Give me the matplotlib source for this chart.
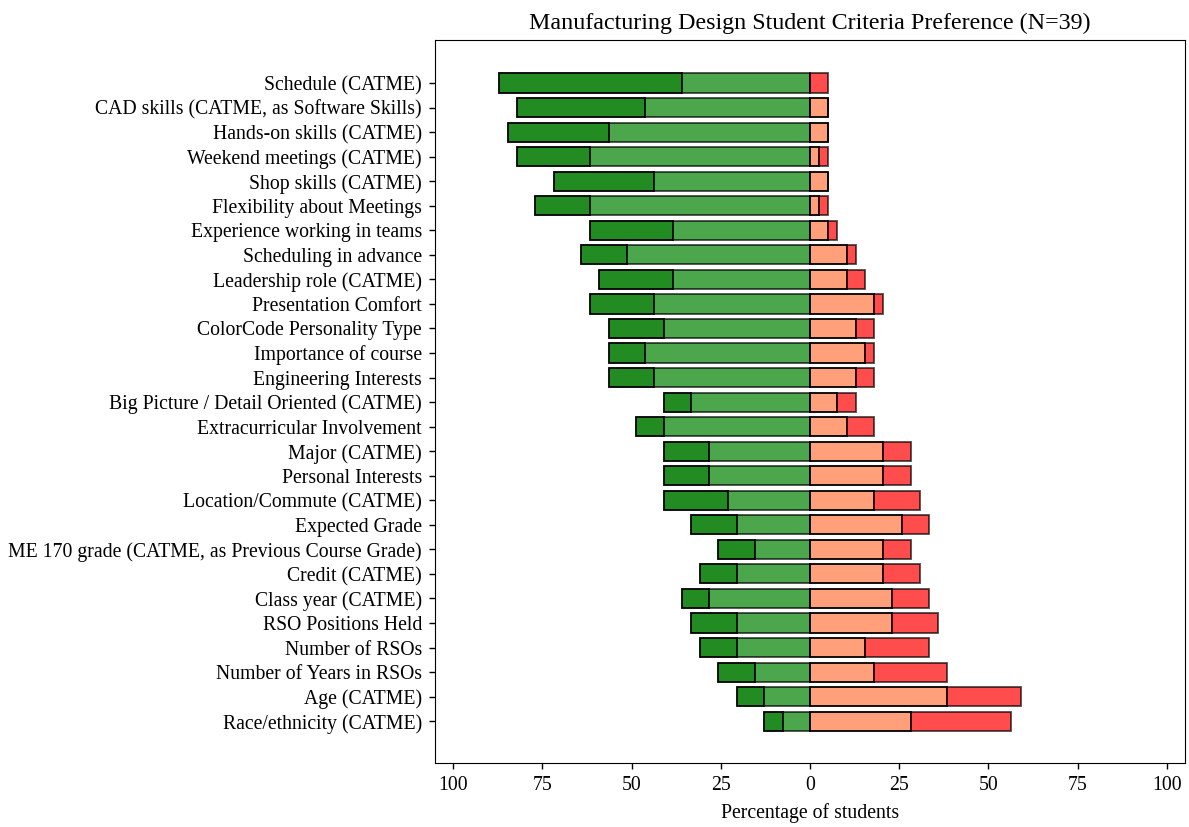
import numpy as np
import matplotlib
matplotlib.use('Agg')
import matplotlib.pyplot as plt

plt.rcParams['font.family'] = ['Liberation Serif', 'DejaVu Serif']

N = 39

criteria = [
    'Schedule (CATME)',
    'CAD skills (CATME, as Software Skills)',
    'Hands-on skills (CATME)',
    'Weekend meetings (CATME)',
    'Shop skills (CATME)',
    'Flexibility about Meetings',
    'Experience working in teams',
    'Scheduling in advance',
    'Leadership role (CATME)',
    'Presentation Comfort',
    'ColorCode Personality Type',
    'Importance of course',
    'Engineering Interests',
    'Big Picture / Detail Oriented (CATME)',
    'Extracurricular Involvement',
    'Major (CATME)',
    'Personal Interests',
    'Location/Commute (CATME)',
    'Expected Grade',
    'ME 170 grade (CATME, as Previous Course Grade)',
    'Credit (CATME)',
    'Class year (CATME)',
    'RSO Positions Held',
    'Number of RSOs',
    'Number of Years in RSOs',
    'Age (CATME)',
    'Race/ethnicity (CATME)',
]

# number of students per response
very_important = [20, 14, 11, 8, 11, 6, 9, 5, 8, 7, 6, 4, 5, 3, 3, 5, 5, 7, 5, 4, 4, 3, 5, 4, 4, 3, 2]
important = [14, 18, 22, 24, 17, 24, 15, 20, 15, 17, 16, 18, 17, 13, 16, 11, 11, 9, 8, 6, 8, 11, 8, 8, 6, 5, 3]
unimportant = [0, 2, 2, 1, 2, 1, 2, 4, 4, 7, 5, 6, 5, 3, 4, 8, 8, 7, 10, 8, 8, 9, 9, 6, 7, 15, 11]
very_unimportant = [2, 0, 0, 1, 0, 1, 1, 1, 2, 1, 2, 1, 2, 2, 3, 3, 3, 5, 3, 3, 4, 4, 5, 7, 8, 8, 11]

vi = np.array(very_important) / N * 100
im = np.array(important) / N * 100
un = np.array(unimportant) / N * 100
vu = np.array(very_unimportant) / N * 100
y = np.arange(len(criteria))

fig = plt.figure(figsize=(11.89, 8.27), dpi=100)
ax = fig.add_axes([0.366, 0.0775, 0.6305, 0.874])

h = 0.78
ax.barh(y, vi, left=-(vi + im), height=h, color='forestgreen', edgecolor='black', linewidth=1.3)
ax.barh(y, im, left=-im, height=h, color='green', alpha=0.7, edgecolor='black', linewidth=1.3)
ax.barh(y, un, left=0, height=h, color='lightsalmon', edgecolor='black', linewidth=1.3)
ax.barh(y, vu, left=un, height=h, color='red', alpha=0.7, edgecolor='black', linewidth=1.3)

ax.set_yticks(y)
ax.set_yticklabels(criteria, fontsize=14.2)
ax.set_ylim(len(criteria) - 1 + 1.7, -1.75)

ticks = np.arange(-100, 101, 25)
ax.set_xticks(ticks)
ax.set_xticklabels([str(abs(t)) for t in ticks], fontsize=14.2)
ax.set_xlim(-105, 105)
ax.tick_params(length=4.5, width=1.0, pad=5)
ax.set_xlabel('Percentage of students', fontsize=14.2, labelpad=6)
ax.set_title('Manufacturing Design Student Criteria Preference (N=39)', fontsize=17.3, pad=8)

plt.savefig('out.png', dpi=100)
